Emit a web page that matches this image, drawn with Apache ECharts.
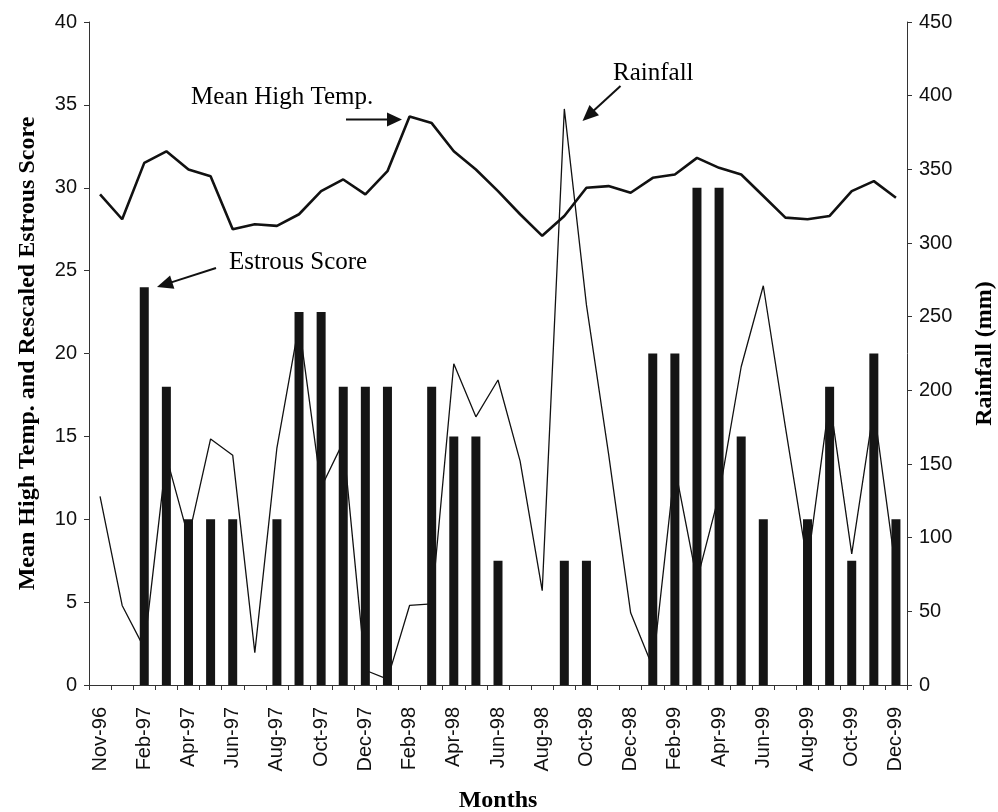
<!DOCTYPE html>
<html><head><meta charset="utf-8">
<script src="https://cdn.jsdelivr.net/npm/echarts@6/dist/echarts.min.js"></script>
<style>html,body{margin:0;padding:0;background:#fff}#c{width:998px;height:812px}</style>
</head><body><div id="c"></div>
<script>
const months = ['Nov-96','Dec-96','Feb-97','Mar-97','Apr-97','May-97','Jun-97','Jul-97','Aug-97','Sep-97','Oct-97','Nov-97','Dec-97',
  'Jan-98','Feb-98','Mar-98','Apr-98','May-98','Jun-98','Jul-98','Aug-98','Sep-98','Oct-98','Nov-98','Dec-98',
  'Jan-99','Feb-99','Mar-99','Apr-99','May-99','Jun-99','Jul-99','Aug-99','Sep-99','Oct-99','Nov-99','Dec-99'];
const estrousScore = [null,null,24,18,10,10,10,null,10,22.5,22.5,18,18,
  18,null,18,15,15,7.5,null,null,7.5,7.5,null,null,
  20,20,30,30,15,10,null,10,18,7.5,20,10];
const meanHighTemp = [29.6,28.1,31.5,32.2,31.1,30.7,27.5,27.8,27.7,28.4,29.8,30.5,29.6,
  31.0,34.3,33.9,32.2,31.1,29.8,28.4,27.1,28.3,30.0,30.1,29.7,
  30.6,30.8,31.8,31.2,30.8,29.5,28.2,28.1,28.3,29.8,30.4,29.4];
const rainfall = [128,54,25,155,100,167,156,22,161,245,134,165,10,
  4,54,55,218,182,207,152,64,391,258,157,49,
  12,148,71,129,216,271,175,82,194,89,188,77];
const leftTicks = [0,5,10,15,20,25,30,35,40];
const rightTicks = [0,50,100,150,200,250,300,350,400,450];

const SANS = "'Liberation Sans', Arial, sans-serif";
const SERIF = "'Liberation Serif', 'Times New Roman', serif";
const INK = '#111';

function arrow(x1,y1,x2,y2,L,W){
  const dx=x2-x1, dy=y2-y1, len=Math.hypot(dx,dy), ux=dx/len, uy=dy/len;
  const bx=x2-ux*L, by=y2-uy*L, px=-uy, py=ux;
  return [
    {type:'line', shape:{x1:x1,y1:y1,x2:bx+ux,y2:by+uy}, style:{stroke:INK,lineWidth:2}},
    {type:'polygon', shape:{points:[[x2,y2],[bx+px*W,by+py*W],[bx-px*W,by-py*W]]}, style:{fill:INK}}
  ];
}
function label(text,x,y){
  return {type:'text', left:x, top:y, style:{text:text, fill:'#000', font:"25px "+SERIF}};
}

const chart = echarts.init(document.getElementById('c'), null, {renderer:'canvas'});
chart.setOption({
  animation:false,
  backgroundColor:'#fff',
  grid:{left:89, right:91, top:22, bottom:127, containLabel:false, outerBoundsMode:'none'},
  xAxis:{
    type:'category', data:months, boundaryGap:true,
    name:'Months', nameLocation:'middle', nameGap:104, nameMoveOverlap:false,
    nameTextStyle:{fontFamily:SERIF, fontWeight:'bold', fontSize:24, color:'#000'},
    axisLine:{lineStyle:{color:'#333', width:1}},
    axisTick:{show:true, interval:0, length:5, lineStyle:{color:'#333'}},
    axisLabel:{interval:1, rotate:90, margin:22, fontFamily:SANS, fontSize:20, color:'#111'}
  },
  yAxis:[
    {type:'value', min:leftTicks[0], max:leftTicks[leftTicks.length-1], interval:leftTicks[1]-leftTicks[0],
     name:'Mean High Temp. and Rescaled Estrous Score', nameLocation:'middle', nameGap:49, nameRotate:90, nameMoveOverlap:false,
     nameTextStyle:{fontFamily:SERIF, fontWeight:'bold', fontSize:24, color:'#000'},
     axisLine:{show:true, lineStyle:{color:'#333', width:1}},
     axisTick:{show:true, length:5, lineStyle:{color:'#333'}},
     splitLine:{show:false},
     axisLabel:{margin:12, fontFamily:SANS, fontSize:20, color:'#111'}},
    {type:'value', position:'right', min:rightTicks[0], max:rightTicks[rightTicks.length-1], interval:rightTicks[1]-rightTicks[0],
     name:'Rainfall (mm)', nameLocation:'middle', nameGap:66, nameRotate:90, nameMoveOverlap:false,
     nameTextStyle:{fontFamily:SERIF, fontWeight:'bold', fontSize:24, color:'#000'},
     axisLine:{show:true, lineStyle:{color:'#333', width:1}},
     axisTick:{show:true, length:5, lineStyle:{color:'#333'}},
     splitLine:{show:false},
     axisLabel:{margin:12, fontFamily:SANS, fontSize:20, color:'#111'}}
  ],
  series:[
    {name:'Rainfall', type:'line', yAxisIndex:1, data:rainfall, symbol:'none', z:1,
     lineStyle:{color:INK, width:1.3}},
    {name:'Estrous Score', type:'bar', yAxisIndex:0, data:estrousScore, barWidth:9, z:2,
     itemStyle:{color:'#151515'}},
    {name:'Mean High Temp.', type:'line', yAxisIndex:0, data:meanHighTemp, symbol:'none', z:3,
     lineStyle:{color:INK, width:2.6}}
  ],
  graphic:[
    label('Mean High Temp.',191,85),
    label('Rainfall',613,61),
    label('Estrous Score',229,250),
    ...arrow(346,119.5,402,119.5,15,7),
    ...arrow(620.5,86,582.5,121,16,7),
    ...arrow(216,268,157,287,16,7)
  ]
});
</script></body></html>
